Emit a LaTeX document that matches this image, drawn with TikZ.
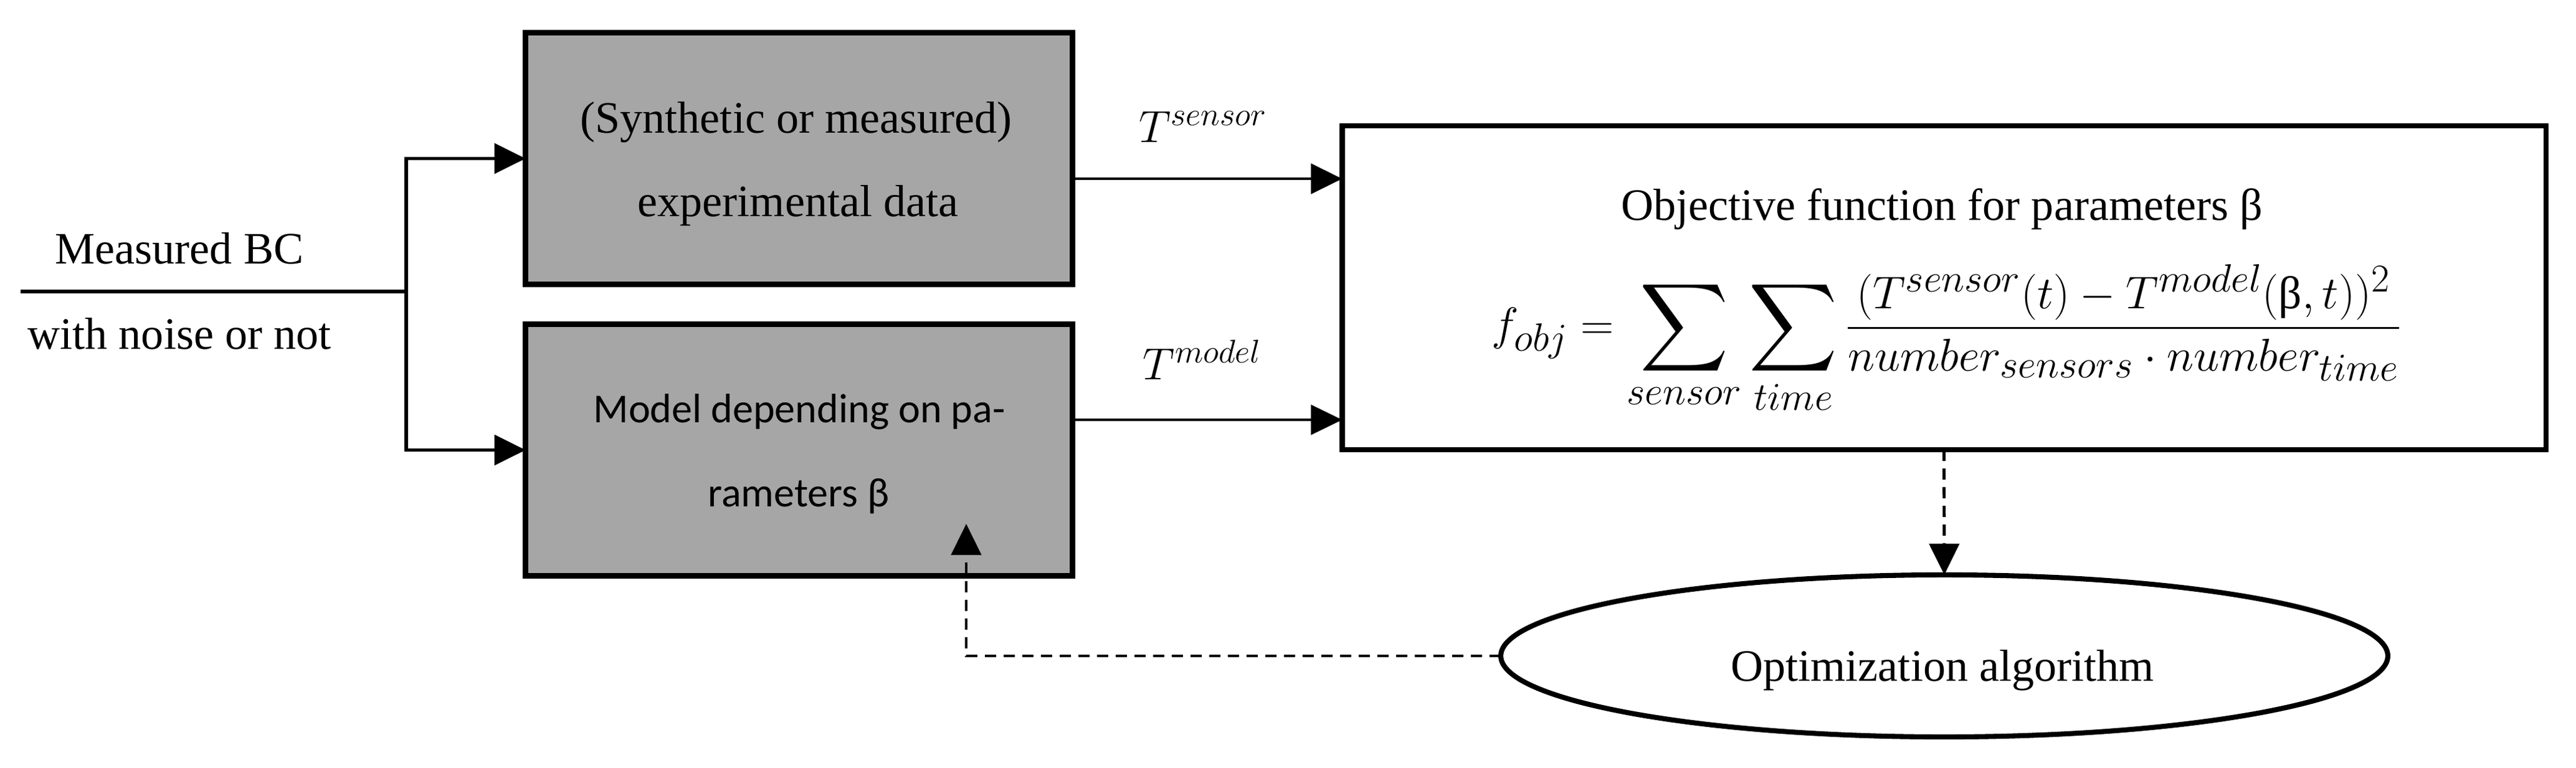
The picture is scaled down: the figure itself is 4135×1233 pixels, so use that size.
\RequirePackage{fix-cm}
\documentclass[tikz,border=0pt]{standalone}
\usepackage{amsmath}
\usepackage{graphicx}
\usepackage{fontspec}
\setmainfont{Liberation Serif}
\newfontfamily\calib{Carlito}
\DeclareMathSizes{20.5}{20.5}{15}{11}
\DeclareMathSizes{21}{21}{18}{14}
\newcommand\bigsumop{\mathop{\vcenter{\hbox{\scalebox{1.35}{$\displaystyle\sum$}}}}\limits}
\usetikzlibrary{arrows.meta,shapes.geometric}
\definecolor{boxgray}{RGB}{166,166,166}
\begin{document}
\begin{tikzpicture}[x=0.01cm,y=-0.01cm,
  serif/.style={font=\fontsize{20.5}{24}\selectfont, inner sep=0, anchor=base},
  sans/.style={font=\calib\fontsize{18.8}{22}\selectfont, inner sep=0, anchor=base},
  mathlbl/.style={font=\fontsize{20.5}{24}\selectfont, inner sep=0, anchor=base},
  graybox/.style={draw, line width=2.5pt, fill=boxgray, inner sep=0, outer sep=0,
                  minimum width=8.77cm, minimum height=4.04cm},
  whitebox/.style={draw, line width=2.3pt, inner sep=0, outer sep=0},
  oval/.style={ellipse, draw, line width=2.3pt, inner sep=0, outer sep=0},
  arr/.style={-{Triangle[length=0.5cm,width=0.48cm]}},
  feed/.style={line width=1.6pt},
  dsh/.style={line width=1.4pt, dash pattern=on 0.18cm off 0.12cm}]
\useasboundingbox (0,0) rectangle (4135,1233);

% boxes
\node[graybox] (exp) at (1282.5,254.5) {};
\node[graybox] (model) at (1282.5,722.5) {};
\node[whitebox, minimum width=19.31cm, minimum height=5.2cm] (obj) at (3120.5,462) {};
\node[oval, minimum width=14.23cm, minimum height=2.6cm] (opt) at (3121,1053) {};

% texts
\node[serif] (bc1) at (288,423) {Measured BC};
\node[serif] (bc2) at (288,560) {with noise or not};
\node[serif] (exp1) at (1278,213) {(Synthetic or measured)};
\node[serif] (exp2) at (1281,347) {experimental data};
\node[sans] (mod1) at (1283,678) {Model depending on pa-};
\node[sans] (mod2) at (1282,813) {rameters β};
\node[mathlbl] (ts) at (1931,228) {$T^{sensor}$};
\node[mathlbl] (tm) at (1930,609) {$T^{model}$};
\node[serif] (objt) at (3117,353) {Objective function for parameters β};
\node[anchor=base, inner sep=0, font=\fontsize{21}{26}\selectfont] (form) at (3125,545)
  {$\displaystyle f_{obj} = \bigsumop_{sensor}\bigsumop_{time}\frac{(T^{sensor}(t)-T^{model}(\text{β},t))^2}{number_{sensors}\cdot number_{time}}$};
\node[serif] (optt) at (3118,1093) {Optimization algorithm};

% coordinates
\coordinate (in) at (33,468);
\coordinate (split) at (652,468);
\coordinate (s1) at (1900,287);
\coordinate (m1) at (1900,674);
\coordinate (fb) at (1551,841);

% connectors
\draw[feed] (in) -- (split);
\draw[feed, arr] (split) |- (exp.west);
\draw[feed, arr] (split) |- (model.west);
\draw[line width=1.4pt, arr] (exp.east |- s1) -- (obj.west |- s1);
\draw[line width=0.9pt, arr] (model.east |- m1) -- (obj.west |- m1);
\draw[dsh, arr] (obj.south) -- (opt.north);
\draw[dsh, arr] (opt.west) -| (fb);
\end{tikzpicture}
\end{document}
